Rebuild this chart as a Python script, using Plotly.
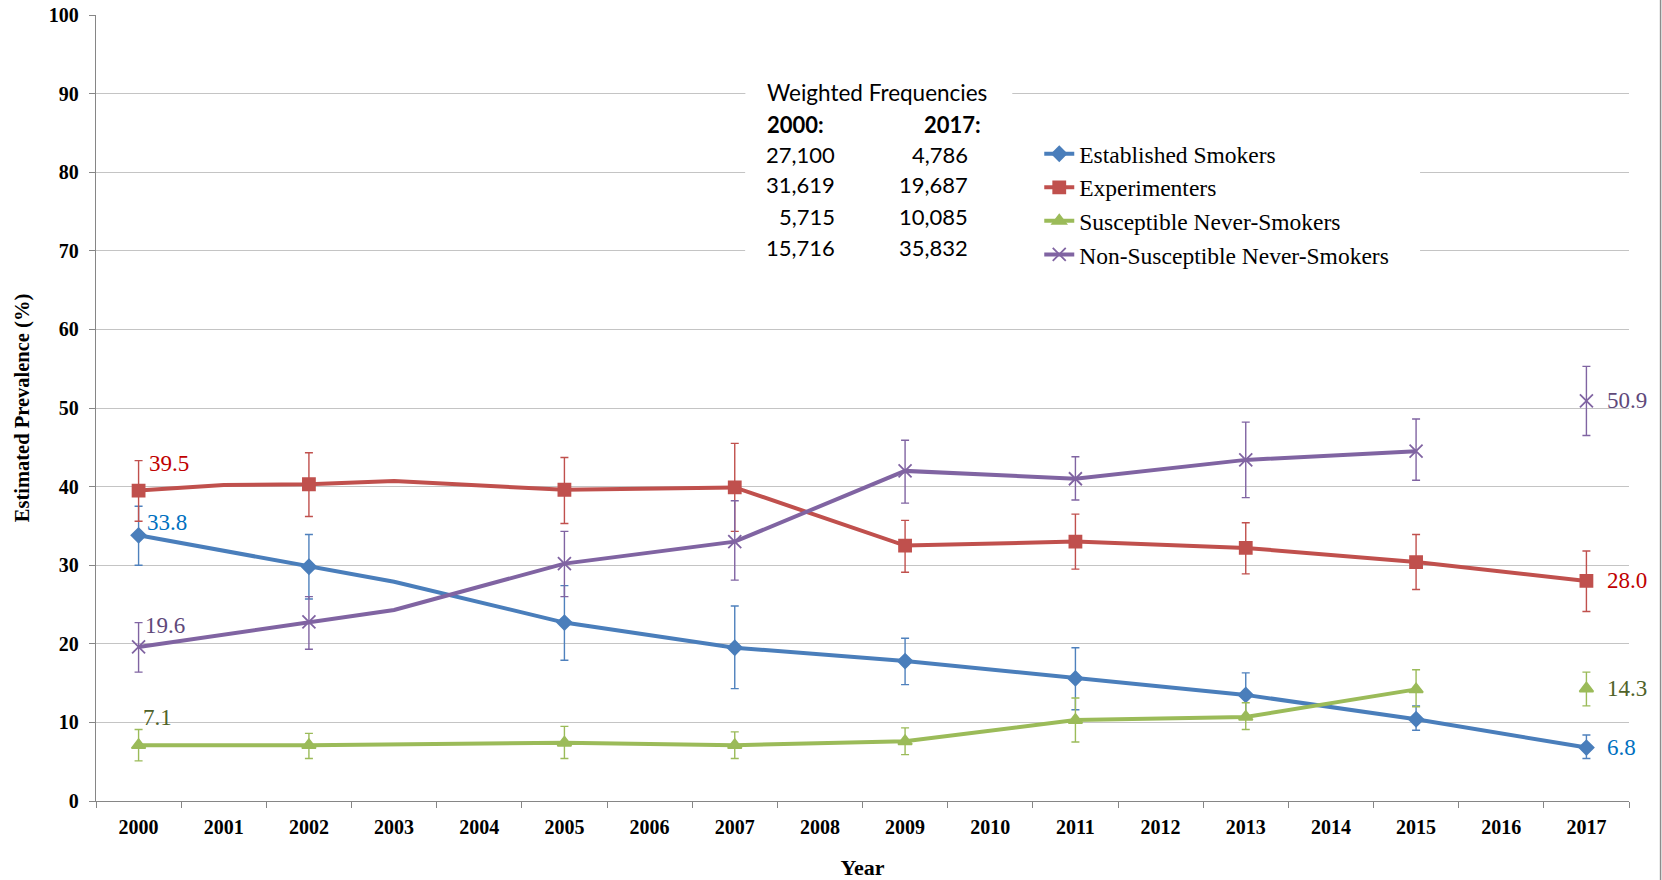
import plotly.graph_objects as go

# Survey years shown with markers and 95% confidence intervals
survey_years = ["2000", "2002", "2005", "2007", "2009", "2011", "2013", "2015", "2017"]
axis_years = [str(y) for y in range(2000, 2018)]

established = [33.8, 29.8, 22.7, 19.5, 17.8, 15.6, 13.5, 10.4, 6.8]
established_lo = [30.0, 25.7, 17.9, 14.3, 14.8, 11.6, 10.8, 9.0, 5.4]
established_hi = [37.5, 33.9, 27.4, 24.8, 20.7, 19.5, 16.3, 12.1, 8.4]
established_bends = [("2003", 27.9)]

experimenters = [39.5, 40.3, 39.6, 39.9, 32.5, 33.0, 32.2, 30.4, 28.0]
experimenters_lo = [35.6, 36.2, 35.3, 34.3, 29.1, 29.5, 28.9, 26.9, 24.1]
experimenters_hi = [43.3, 44.3, 43.7, 45.5, 35.7, 36.5, 35.4, 33.9, 31.8]
experimenters_bends = [("2001", 40.2), ("2003", 40.7)]

susceptible = [7.1, 7.1, 7.4, 7.1, 7.6, 10.3, 10.7, 14.2, 14.3]
susceptible_lo = [5.1, 5.4, 5.4, 5.4, 5.9, 7.5, 9.1, 12.0, 12.1]
susceptible_hi = [9.1, 8.6, 9.5, 8.8, 9.3, 13.1, 12.5, 16.7, 16.4]
susceptible_bends = []

non_susceptible = [19.6, 22.8, 30.2, 33.0, 42.0, 41.0, 43.4, 44.5, 50.9]
non_susceptible_lo = [16.4, 19.3, 26.0, 28.1, 37.9, 38.3, 38.6, 40.8, 46.5]
non_susceptible_hi = [22.7, 26.0, 34.3, 38.2, 45.9, 43.8, 48.2, 48.6, 55.3]
non_susceptible_bends = [("2003", 24.3)]

# Weighted frequencies table (2000 vs 2017)
freq_2000 = ["27,100", "31,619", "5,715", "15,716"]
freq_2017 = ["4,786", "19,687", "10,085", "35,832"]

SERIF = "Liberation Serif"

series = [
    dict(name="Established Smokers", y=established, lo=established_lo, hi=established_hi,
         bends=established_bends, color="#4A7EBB", err="#4F81BD", symbol="diamond", size=11,
         joined=True, label="#0070C0", start_shift=(6, 13)),
    dict(name="Experimenters", y=experimenters, lo=experimenters_lo, hi=experimenters_hi,
         bends=experimenters_bends, color="#C0504D", err="#C0504D", symbol="square", size=12,
         joined=True, label="#C00000", start_shift=(8, 27)),
    dict(name="Susceptible Never-Smokers", y=susceptible, lo=susceptible_lo, hi=susceptible_hi,
         bends=susceptible_bends, color="#9BBB59", err="#9BBB59", symbol="triangle-up", size=12,
         joined=False, label="#4F6228", start_shift=(2, 28)),
    dict(name="Non-Susceptible Never-Smokers", y=non_susceptible, lo=non_susceptible_lo,
         hi=non_susceptible_hi, bends=non_susceptible_bends, color="#8064A2", err="#8064A2",
         symbol="x-thin", size=13, joined=False, label="#5F497A", start_shift=(4, 21)),
]

fig = go.Figure()
annotations = []

for s in series:
    # line path: survey points plus intermediate vertices, ordered by year
    pts = list(zip(survey_years, s["y"])) + list(s["bends"])
    if not s["joined"]:
        pts = [p for p in pts if p[0] != survey_years[-1]]
    pts.sort(key=lambda p: int(p[0]))
    fig.add_trace(go.Scatter(
        x=[p[0] for p in pts], y=[p[1] for p in pts], mode="lines",
        line=dict(color=s["color"], width=4), showlegend=False, hoverinfo="skip",
    ))
    # markers with confidence interval bars
    fig.add_trace(go.Scatter(
        x=survey_years, y=s["y"], mode="markers",
        marker=dict(symbol=s["symbol"], size=s["size"], color=s["color"],
                    line=dict(color=s["color"], width=1.8)),
        error_y=dict(type="data", symmetric=False,
                     array=[h - v for h, v in zip(s["hi"], s["y"])],
                     arrayminus=[v - l for v, l in zip(s["y"], s["lo"])],
                     color=s["err"], thickness=1.4, width=4),
        showlegend=False, name=s["name"],
    ))
    # value labels at the first and last survey year (category index positions)
    dx, dy = s["start_shift"]
    first_idx = axis_years.index(survey_years[0])
    last_idx = axis_years.index(survey_years[-1])
    annotations.append(dict(
        x=first_idx, y=s["y"][0], xref="x", yref="y", text=f"{s['y'][0]:.1f}",
        showarrow=False, xanchor="left", yanchor="middle", xshift=dx, yshift=dy,
        font=dict(family=SERIF, size=23, color=s["label"]),
    ))
    annotations.append(dict(
        x=last_idx, y=s["y"][-1], xref="x", yref="y", text=f"{s['y'][-1]:.1f}",
        showarrow=False, xanchor="left", yanchor="middle", xshift=19,
        font=dict(family=SERIF, size=23, color=s["label"]),
    ))

# legend entries (line with marker)
for s in series:
    fig.add_trace(go.Scatter(
        x=[None], y=[None], mode="lines+markers", name=s["name"],
        line=dict(color=s["color"], width=4),
        marker=dict(symbol=s["symbol"], size=s["size"], color=s["color"],
                    line=dict(color=s["color"], width=1.8)),
    ))

# weighted frequencies block
SANS = "Lato"
FS = 22
annotations.append(dict(x=0.4366, y=0.9019, xref="paper", yref="paper", text="Weighted Frequencies",
                        showarrow=False, xanchor="left", yanchor="middle",
                        font=dict(family=SANS, size=FS + 0.5, color="#000000")))
annotations.append(dict(x=0.4366, y=0.8613, xref="paper", yref="paper", text="<b>2000:</b>",
                        showarrow=False, xanchor="left", yanchor="middle",
                        font=dict(family=SANS, size=FS, color="#000000")))
annotations.append(dict(x=0.5788, y=0.8613, xref="paper", yref="paper", text="<b>2017:</b>",
                        showarrow=False, xanchor="right", yanchor="middle",
                        font=dict(family=SANS, size=FS, color="#000000")))
row_y = [0.8223, 0.7841, 0.7436, 0.7039]
for a, b, yy in zip(freq_2000, freq_2017, row_y):
    annotations.append(dict(x=0.4835, y=yy, xref="paper", yref="paper", text=a, showarrow=False,
                            xanchor="right", yanchor="middle",
                            font=dict(family=SANS, size=FS, color="#000000")))
    annotations.append(dict(x=0.5703, y=yy, xref="paper", yref="paper", text=b, showarrow=False,
                            xanchor="right", yanchor="middle",
                            font=dict(family=SANS, size=FS, color="#000000")))

shapes = [
    dict(type="rect", xref="paper", yref="paper", x0=0.4236, x1=0.5977, y0=0.6819, y1=0.9198,
         fillcolor="white", line=dict(width=0), layer="above"),
    dict(type="rect", xref="paper", yref="paper", x0=0.4236, x1=0.8637, y0=0.6819, y1=0.8537,
         fillcolor="white", line=dict(width=0), layer="above"),
    dict(type="line", xref="paper", yref="paper", x0=1.0206, x1=1.0206, y0=-0.11, y1=1.02,
         line=dict(color="#8C8C8C", width=1.5)),
]

AXIS = "#868686"
fig.update_layout(
    width=1662, height=880,
    margin=dict(l=96, r=33, t=15, b=79, autoexpand=False),
    paper_bgcolor="white", plot_bgcolor="white",
    showlegend=True,
    legend=dict(x=0.6153, y=0.8512, xanchor="left", yanchor="top", bgcolor="white",
                font=dict(family=SERIF, size=23.5, color="#000000"), tracegroupgap=0,
                itemclick=False),
    annotations=annotations,
    shapes=shapes,
    xaxis=dict(
        type="category", categoryorder="array", categoryarray=axis_years,
        tickvals=axis_years, range=[-0.5, 17.5], automargin=False,
        showline=True, linecolor=AXIS, linewidth=1.3,
        ticks="outside", tickson="boundaries", ticklen=6, tickcolor=AXIS, tickwidth=1,
        ticklabelstandoff=8,
        showgrid=False, zeroline=False,
        tickfont=dict(family=SERIF, size=20, color="#000000", weight="bold"),
        title=dict(text="<b>Year</b>", font=dict(family=SERIF, size=22, color="#000000"),
                   standoff=26),
    ),
    yaxis=dict(
        range=[0, 100], dtick=10, tick0=0, automargin=False,
        showline=True, linecolor=AXIS, linewidth=1.3,
        ticks="outside", ticklen=6, tickcolor=AXIS, tickwidth=1,
        ticklabelstandoff=6,
        showgrid=True, gridcolor="#C4C4C4", gridwidth=1.3, zeroline=False,
        tickfont=dict(family=SERIF, size=20, color="#000000", weight="bold"),
        title=dict(text="<b>Estimated Prevalence (%)</b>",
                   font=dict(family=SERIF, size=20.5, color="#000000"), standoff=13),
    ),
)

fig.write_html("out.html")
